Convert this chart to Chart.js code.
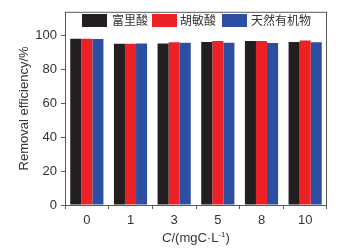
<!DOCTYPE html>
<html>
<head>
<meta charset="utf-8">
<script src="https://cdn.jsdelivr.net/npm/chart.js@4"></script>
<style>
    html, body { margin: 0; padding: 0; background: #fff; }
    #wrap { width: 343px; height: 251px; position: relative; }
</style>
</head>
<body>
<div id="wrap"><canvas id="chart"></canvas></div>
<script>
const categories = ['0', '1', '3', '5', '8', '10'];
const fulvicAcid = [98.1, 95.2, 95.3, 96.2, 96.8, 96.2];
const humicAcid = [98.1, 95.2, 96.0, 96.8, 96.8, 97.0];
const naturalOrganics = [98.0, 95.3, 95.7, 95.7, 95.6, 96.0];
const seriesNames = ['富里酸', '胡敏酸', '天然有机物'];
const yTicks = [0, 20, 40, 60, 80, 100];

const colors = ['#231f20', '#ec2227', '#2d4fa1'];
const axisColor = '#5a5a5a';
const textColor = '#333';

// frame + in-plot legend + x title with italic C and superscript
const decorations = {
    id: 'decorations',
    afterDraw(chart) {
        const { ctx, chartArea: a } = chart;
        ctx.save();
        ctx.strokeStyle = axisColor;
        ctx.lineWidth = 1;
        ctx.strokeRect(a.left + 0.5, a.top + 0.5, a.right - a.left - 1, a.bottom - a.top);

        // legend
        const items = [
            { box: 82, text: 112 },
            { box: 152, text: 180 },
            { box: 222, text: 251 },
        ];
        ctx.font = '12px "Noto Sans CJK SC"';
        ctx.textBaseline = 'middle';
        ctx.textAlign = 'left';
        items.forEach((it, i) => {
            ctx.fillStyle = colors[i];
            ctx.fillRect(it.box, 14, 25, 13);
            ctx.fillStyle = textColor;
            ctx.fillText(seriesNames[i], it.text, 20.5);
        });

        // x axis title
        const y = 242;
        const parts = [
            { t: 'C', f: 'italic 13px "Liberation Sans"' },
            { t: '/(mgC·L', f: '13px "Liberation Sans"' },
            { t: '-1', f: '8px "Liberation Sans"', sup: true },
            { t: ')', f: '13px "Liberation Sans"' },
        ];
        let total = 0;
        parts.forEach(p => { ctx.font = p.f; total += ctx.measureText(p.t).width; });
        let x = (a.left + a.right) / 2 - total / 2;
        ctx.fillStyle = textColor;
        ctx.textBaseline = 'alphabetic';
        parts.forEach(p => {
            ctx.font = p.f;
            ctx.fillText(p.t, x, p.sup ? y - 5 : y);
            x += ctx.measureText(p.t).width;
        });
        ctx.restore();
    },
};

new Chart(document.getElementById('chart'), {
    type: 'bar',
    data: {
        labels: categories,
        datasets: [
            { label: seriesNames[0], data: fulvicAcid, backgroundColor: colors[0] },
            { label: seriesNames[1], data: humicAcid, backgroundColor: colors[1] },
            { label: seriesNames[2], data: naturalOrganics, backgroundColor: colors[2] },
        ],
    },
    options: {
        responsive: true,
        maintainAspectRatio: false,
        animation: false,
        layout: { padding: { top: 10, right: 16, left: 0, bottom: 0 } },
        datasets: { bar: { barPercentage: 1, categoryPercentage: 0.76 } },
        plugins: { legend: { display: false }, tooltip: { enabled: false } },
        scales: {
            x: {
                grid: { display: true, drawOnChartArea: false, drawTicks: true, tickLength: 4, tickColor: axisColor },
                border: { display: false },
                ticks: { color: textColor, font: { family: 'Liberation Sans', size: 13 }, padding: 4 },
                afterFit: (s) => { s.height = 46; },
            },
            y: {
                min: 0,
                max: 114,
                afterBuildTicks: (s) => { s.ticks = yTicks.map(v => ({ value: v })); },
                grid: { display: true, drawOnChartArea: false, drawTicks: true, tickLength: 4, tickColor: axisColor },
                border: { display: false },
                ticks: { color: textColor, font: { family: 'Liberation Sans', size: 13 }, padding: 4 },
                title: {
                    display: true,
                    text: 'Removal efficiency/%',
                    color: textColor,
                    font: { family: 'Liberation Sans', size: 13 },
                    padding: { top: 17, bottom: 0 },
                },
                afterFit: (s) => { s.width = 65; },
            },
        },
    },
    plugins: [decorations],
});
</script>
</body>
</html>
